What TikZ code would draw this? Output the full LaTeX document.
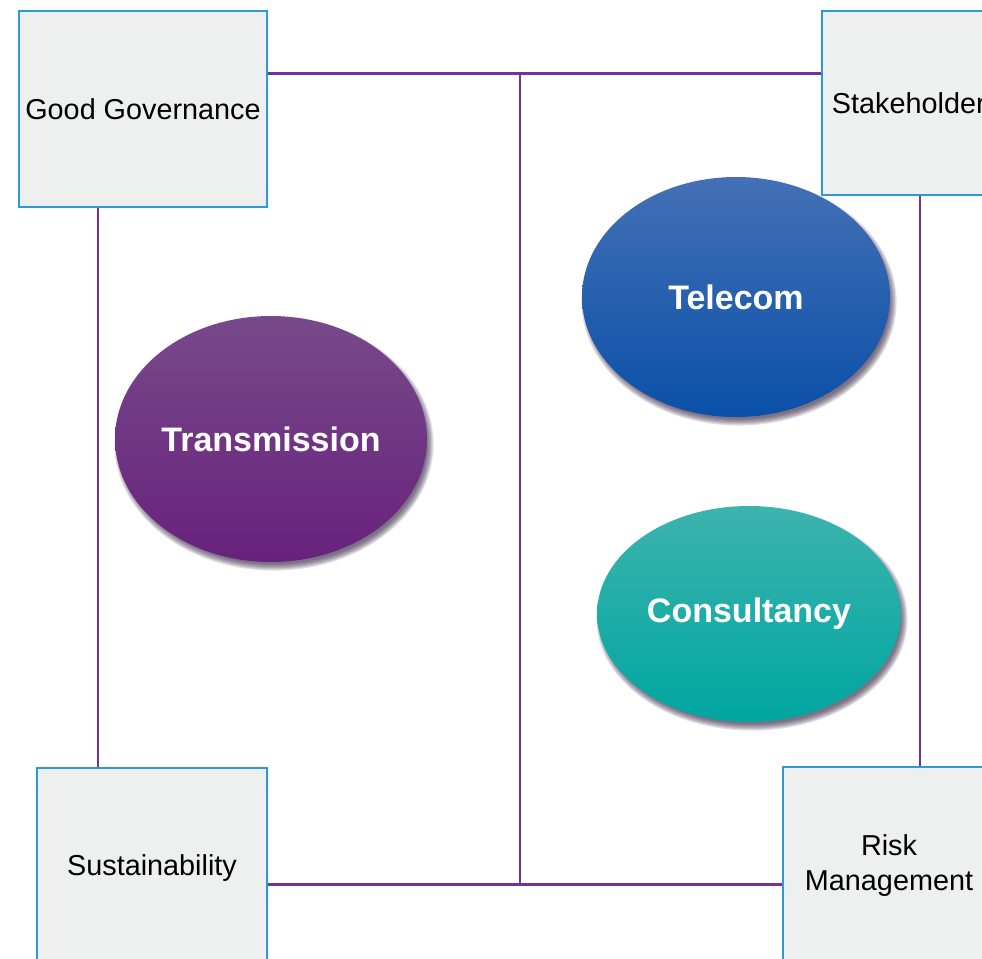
\documentclass[tikz,border=0pt]{standalone}
\usepackage{fontspec}
\setmainfont{Liberation Sans}
\usetikzlibrary{shapes.geometric}
\definecolor{boxfill}{HTML}{EEEFEF}
\definecolor{boxline}{HTML}{2A9AD8}
\definecolor{linkc}{HTML}{76309A}
\definecolor{shadowc}{HTML}{3B2A48}
\definecolor{trtop}{HTML}{774A8A}
\definecolor{trbot}{HTML}{68217C}
\definecolor{tetop}{HTML}{4470B5}
\definecolor{tebot}{HTML}{0A50A8}
\definecolor{cotop}{HTML}{3DB3AE}
\definecolor{cobot}{HTML}{00A6A0}
\tikzset{
  pillar/.style={draw=boxline, line width=2.8pt, fill=boxfill, rectangle, inner sep=0pt,
    font=\fontsize{28.8}{35}\selectfont, text=black, align=center},
  link/.style={draw=linkc, line width=2.8pt},
  oval/.style={ellipse, inner sep=0pt, text=white, font=\fontsize{34}{40}\selectfont\bfseries},
  softshade/.style={fill=shadowc, fill opacity=0.14}
}
\newcommand{\ovalshadow}[4]{%
  \foreach \k in {0,...,6}{%
    \fill[softshade] (#1+3,#2+5) ellipse [x radius=#3-3+1.1*\k, y radius=#4-3+1.1*\k];
  }%
}
\begin{document}
\begin{tikzpicture}[x=1pt,y=-1pt]
\useasboundingbox (0,0) rectangle (982,958);
\clip (0,0) rectangle (982,958);
\fill[white] (0,0) rectangle (982,958);
% junctions
\coordinate (jt) at (520,73.5);
\coordinate (jb) at (520,884.5);
\coordinate (cl) at (98,0);
\coordinate (cr) at (920,0);
% boxes
\node[pillar, minimum width=248pt, minimum height=196pt] (gg) at (143,109) {Good Governance};
\node[pillar, minimum width=188pt, minimum height=184pt] (sh) at (916,103) {Stakeholders};
\node[pillar, minimum width=230pt, minimum height=200pt] (ss) at (152,868) {\raisebox{-3pt}{Sustainability}};
\node[pillar, minimum width=212pt, minimum height=198pt] (rm) at (889,866) {Risk\\Management};
% connectors
\draw[link] (gg.east |- jt) -- (jt) -- (sh.west |- jt);
\draw[link] (jt) -- (jb);
\draw[link] (ss.east |- jb) -- (jb) -- (rm.west |- jb);
\draw[link] (gg.south -| cl) -- (ss.north -| cl);
\draw[link] (sh.south -| cr) -- (rm.north -| cr);
% ovals with soft shadows
\ovalshadow{271}{439}{156}{123}
\node[oval, minimum width=312pt, minimum height=246pt, top color=trtop, bottom color=trbot] (tr) at (271,439) {Transmission};
\ovalshadow{736}{297}{154}{120}
\node[oval, minimum width=308pt, minimum height=240pt, top color=tetop, bottom color=tebot] (te) at (736,297) {Telecom};
\ovalshadow{749}{614}{152}{108}
\node[oval, minimum width=304pt, minimum height=216pt, top color=cotop, bottom color=cobot] (co) at (749,614) {Consultancy};
\end{tikzpicture}
\end{document}
